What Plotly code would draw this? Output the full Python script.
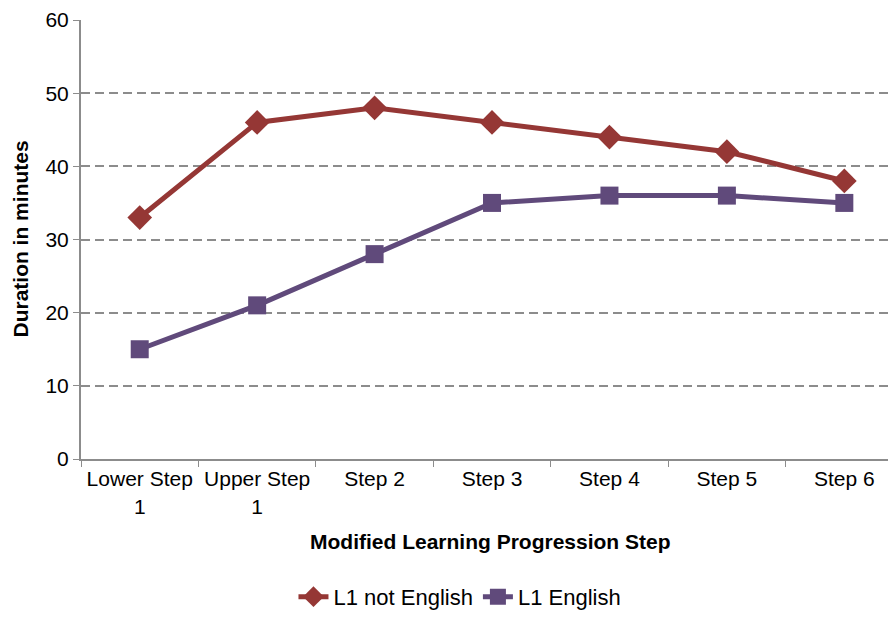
import plotly.graph_objects as go

steps = ["Lower Step<br>1", "Upper Step<br>1", "Step 2", "Step 3", "Step 4", "Step 5", "Step 6"]
l1_not_english = [33, 46, 48, 46, 44, 42, 38]
l1_english = [15, 21, 28, 35, 36, 36, 35]

font = "Liberation Sans, Arial, sans-serif"

fig = go.Figure()
fig.add_trace(go.Scatter(
    x=steps, y=l1_not_english, name="L1 not English",
    mode="lines+markers",
    line=dict(color="#953735", width=5),
    marker=dict(symbol="diamond", size=19, color="#953735"),
))
fig.add_trace(go.Scatter(
    x=steps, y=l1_english, name="L1 English",
    mode="lines+markers",
    line=dict(color="#604A7B", width=5),
    marker=dict(symbol="square", size=18, color="#604A7B"),
))

# page body has an 8px margin, so the figure is sized and offset for that
fig.update_layout(
    width=888, height=610,
    margin=dict(l=73, r=0, t=12, b=159),
    paper_bgcolor="white", plot_bgcolor="white",
    font=dict(family=font, size=21, color="black"),
    showlegend=True,
    legend=dict(orientation="h", x=0.465, xanchor="center", y=-0.362, yanchor="bottom",
                font=dict(size=22)),
    annotations=[
        dict(text="<b>Modified Learning Progression Step</b>", xref="paper", yref="paper",
             x=0.503, y=-0.187, showarrow=False, font=dict(size=21),
             xanchor="center", yanchor="middle"),
        dict(text="<b>Duration in minutes</b>", xref="paper", yref="paper",
             x=-0.0748, y=0.5, showarrow=False, font=dict(size=21), textangle=-90,
             xanchor="center", yanchor="middle"),
    ],
)
fig.update_xaxes(
    type="category", range=[-0.5, 6.44], automargin=False,
    showline=True, linecolor="#8c8c8c", linewidth=2,
    ticks="outside", tickson="boundaries", ticklen=6, tickcolor="#8c8c8c",
    showgrid=False,
)
fig.update_yaxes(
    range=[0, 60], dtick=10, automargin=False,
    showline=True, linecolor="#8c8c8c", linewidth=2,
    ticks="outside", ticklen=6, tickcolor="#8c8c8c",
    showgrid=True, gridcolor="#8c8c8c", griddash="9px,5px", gridwidth=1.5,
    zeroline=False,
)

fig.write_html("out.html")
